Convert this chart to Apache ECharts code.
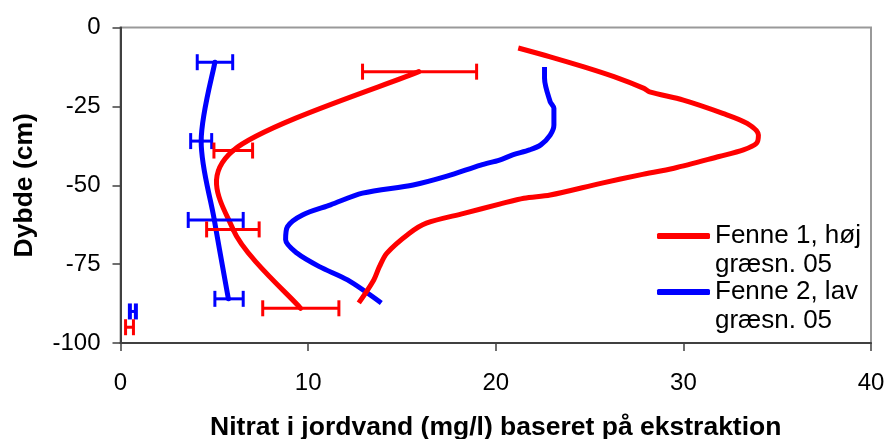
<!DOCTYPE html>
<html>
<head>
<meta charset="utf-8">
<script src="https://cdn.jsdelivr.net/npm/echarts@6/dist/echarts.min.js"></script>
<style>
html,body{margin:0;padding:0;background:#fff;}
#chart{width:888px;height:439px;}
</style>
</head>
<body>
<div id="chart"></div>
<script>
// ---- Data ----
// Fenne 1 (red), profile without error bars: [nitrate mg/l, depth cm]
const f1X = [21.2, 22.9, 24.7, 26.3, 27.9, 28.2, 30.0, 32.1, 33.4, 34.0, 33.9, 33.2, 31.9, 29.5, 27.7, 25.6, 22.9, 21.5, 20.2, 18.3, 16.3, 15.4, 14.2, 13.8, 13.5, 12.7];
const f1Y = [-6.5, -9.3, -12.5, -15.6, -19.3, -20.4, -23.0, -27.2, -30.4, -34.1, -36.7, -38.8, -40.9, -44.6, -46.7, -49.4, -53.1, -54.1, -56.0, -58.9, -62.0, -65.2, -71.5, -75.8, -80.0, -87.3];
// Fenne 2 (blue), profile without error bars
const f2X = [22.6, 22.6, 22.9, 23.1, 23.1, 22.9, 22.4, 21.8, 20.9, 20.2, 19.2, 17.4, 15.6, 12.9, 11.2, 9.7, 8.9, 8.8, 9.4, 10.6, 12.1, 13.9];
const f2Y = [-12.5, -16.1, -23.5, -25.6, -30.9, -34.1, -37.2, -38.8, -40.4, -42.0, -43.6, -47.1, -49.9, -52.5, -56.2, -59.4, -63.1, -67.3, -71.5, -75.8, -80.0, -87.3];
// Fenne 1 (red), mean with error bars
const f1eDepth = [-14, -39, -64, -89];
const f1eMean  = [15.9, 6.0, 6.0, 9.6];
const f1eLo    = [12.9, 4.98, 4.59, 7.58];
const f1eHi    = [18.98, 7.04, 7.39, 11.64];
// Fenne 2 (blue), mean with error bars
const f2eDepth = [-11, -36, -61, -86];
const f2eMean  = [5.03, 4.3, 5.0, 5.75];
const f2eLo    = [4.09, 3.74, 3.61, 5.03];
const f2eHi    = [5.98, 4.86, 6.54, 6.54];
// Small single error bars near zero
const redSmallDepth = [-95];
const redSmallLo = [0.27];
const redSmallHi = [0.69];
const blueSmallDepth = [-90];
const blueSmallLo = [0.5];
const blueSmallHi = [0.82];

const xTicks = [0, 10, 20, 30, 40];
const yTicks = [-100, -75, -50, -25, 0];

const nameF1 = 'Fenne 1, høj græsn. 05';
const nameF2 = 'Fenne 2, lav græsn. 05';

const RED = '#ff0000';
const BLUE = '#0000ff';
const FONT = "'Liberation Sans', Arial, sans-serif";

function zipPts(xs, ys) { return xs.map((x, i) => [x, ys[i]]); }
function errData(lo, hi, d) { return lo.map((l, i) => [l, hi[i], d[i]]); }

function errSeries(name, color, data, capW) {
  return {
    type: 'custom',
    name: name,
    data: data,
    encode: { x: [0, 1], y: 2 },
    z: 4,
    renderItem: function (params, api) {
      const a = api.coord([api.value(0), api.value(2)]);
      const b = api.coord([api.value(1), api.value(2)]);
      const h = 8;
      const st = { stroke: color, lineWidth: 3, fill: null };
      const cs = { stroke: color, lineWidth: capW || 3, fill: null };
      return {
        type: 'group',
        children: [
          { type: 'line', shape: { x1: a[0], y1: a[1], x2: b[0], y2: b[1] }, style: st },
          { type: 'line', shape: { x1: a[0], y1: a[1] - h, x2: a[0], y2: a[1] + h }, style: cs },
          { type: 'line', shape: { x1: b[0], y1: b[1] - h, x2: b[0], y2: b[1] + h }, style: cs }
        ]
      };
    }
  };
}

// Spreadsheet-style smoothed line (Catmull-Rom through the data points),
// positioned with the chart's own coordinate system.
function smoothSeries(name, color, xs, ys, z) {
  return {
    type: 'custom',
    name: name,
    data: zipPts(xs, ys),
    encode: { x: 0, y: 1 },
    z: z,
    renderItem: function (params, api) {
      if (params.dataIndex !== 0) return null;
      const p = xs.map((x, i) => api.coord([x, ys[i]]));
      const n = p.length;
      const children = [];
      for (let i = 0; i < n - 1; i++) {
        const p0 = p[Math.max(i - 1, 0)], p1 = p[i], p2 = p[i + 1], p3 = p[Math.min(i + 2, n - 1)];
        children.push({
          type: 'bezierCurve',
          shape: {
            x1: p1[0], y1: p1[1], x2: p2[0], y2: p2[1],
            cpx1: p1[0] + (p2[0] - p0[0]) / 6, cpy1: p1[1] + (p2[1] - p0[1]) / 6,
            cpx2: p2[0] - (p3[0] - p1[0]) / 6, cpy2: p2[1] - (p3[1] - p1[1]) / 6
          },
          style: { stroke: color, lineWidth: 5, fill: null, lineCap: 'round' }
        });
      }
      return { type: 'group', children: children };
    }
  };
}

const chart = echarts.init(document.getElementById('chart'), null, { renderer: 'canvas' });

chart.setOption({
  animation: false,
  backgroundColor: '#ffffff',
  textStyle: { fontFamily: FONT },
  grid: {
    left: 120.5, right: 17, top: 27.5, bottom: 96,
    outerBoundsMode: 'none',
    containLabel: false,
    show: true, borderColor: '#999999', borderWidth: 2, backgroundColor: 'transparent'
  },
  legend: {
    data: [nameF1, nameF2],
    orient: 'vertical',
    left: 657,
    top: 194,
    padding: 0,
    itemGap: -28,
    itemWidth: 53,
    itemHeight: 6,
    icon: 'roundRect',
    formatter: function (n) {
      const parts = n.split(' græsn');
      return '{e| }\n{a|' + parts[0] + '}\n{a|græsn' + parts[1] + '}';
    },
    textStyle: {
      fontFamily: FONT, fontSize: 26, color: '#000',
      rich: {
        e: { fontSize: 26, lineHeight: 29, fontFamily: FONT },
        a: { fontSize: 26, lineHeight: 29, fontFamily: FONT, color: '#000' }
      }
    },
    selectedMode: false
  },
  xAxis: {
    type: 'value',
    min: xTicks[0], max: xTicks[xTicks.length - 1], interval: 10,
    name: 'Nitrat i jordvand (mg/l) baseret på ekstraktion',
    nameLocation: 'middle',
    nameGap: 71,
    nameTextStyle: { fontFamily: FONT, fontSize: 26.5, fontWeight: 'bold', color: '#000' },
    axisLine: { onZero: false, lineStyle: { color: '#404040', width: 2 } },
    axisTick: { show: true, length: 8, lineStyle: { color: '#404040', width: 1.5 } },
    axisLabel: { margin: 28, fontSize: 24, color: '#000', fontFamily: FONT },
    splitLine: { show: false }
  },
  yAxis: {
    type: 'value',
    min: yTicks[0], max: yTicks[yTicks.length - 1], interval: 25,
    name: 'Dybde (cm)',
    nameLocation: 'middle',
    nameGap: 82,
    nameRotate: 90,
    nameTextStyle: { fontFamily: FONT, fontSize: 26.5, fontWeight: 'bold', color: '#000' },
    axisLine: { onZero: false, lineStyle: { color: '#404040', width: 2 } },
    axisTick: { show: true, length: 8, lineStyle: { color: '#404040', width: 1.5 } },
    axisLabel: { margin: 20, fontSize: 24, color: '#000', fontFamily: FONT },
    splitLine: { show: false }
  },
  series: [
    {
      name: nameF2, type: 'line', data: zipPts(f2X, f2Y), smooth: 0.3,
      symbol: 'none', lineStyle: { color: BLUE, width: 5 }, itemStyle: { color: BLUE }, z: 2
    },
    smoothSeries('Fenne 2 middel', BLUE, f2eMean, f2eDepth, 2),
    errSeries('Fenne 2 fejl', BLUE, errData(f2eLo, f2eHi, f2eDepth)),
    errSeries('Fenne 2 fejl b', BLUE, errData(blueSmallLo, blueSmallHi, blueSmallDepth), 4),
    {
      name: nameF1, type: 'line', data: zipPts(f1X, f1Y), smooth: 0.3,
      symbol: 'none', lineStyle: { color: RED, width: 5 }, itemStyle: { color: RED }, z: 3
    },
    smoothSeries('Fenne 1 middel', RED, f1eMean, f1eDepth, 3),
    errSeries('Fenne 1 fejl', RED, errData(f1eLo, f1eHi, f1eDepth)),
    errSeries('Fenne 1 fejl b', RED, errData(redSmallLo, redSmallHi, redSmallDepth))
  ]
});
</script>
</body>
</html>
